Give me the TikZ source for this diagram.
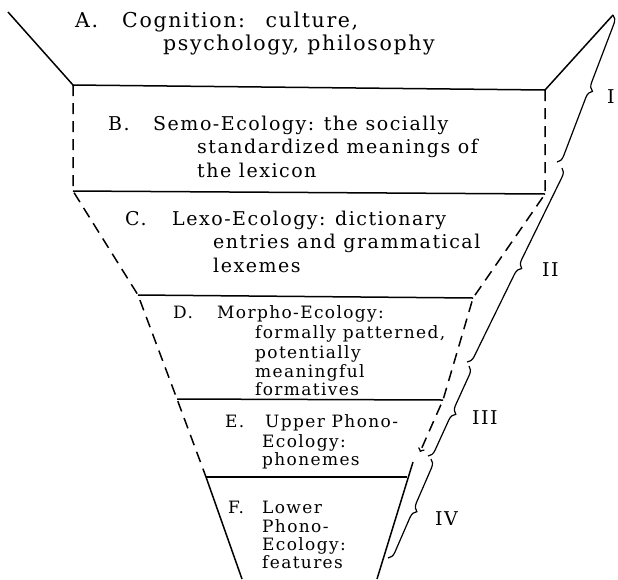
\documentclass[tikz,border=0pt]{standalone}
\usepackage{fontspec}
\setmainfont[LetterSpace=8]{DejaVu Serif}
\usetikzlibrary{decorations.pathreplacing}
\begin{document}
\begin{tikzpicture}[x=1pt,y=-1pt,
  txt/.style={anchor=base west,inner sep=0pt},
  big/.style={txt,font=\fontsize{20.5}{24}\selectfont},
  mid/.style={txt,font=\fontsize{19}{23}\selectfont},
  sml/.style={txt,font=\fontsize{17}{20}\selectfont},
  solidline/.style={line width=1.5pt},
  dashline/.style={line width=1.5pt,dash pattern=on 11pt off 7pt},
  brc/.style={line width=1.2pt,decorate,decoration={brace,amplitude=8pt}}]
\useasboundingbox (0,0) rectangle (618,579);

% corners of the funnel
\coordinate (tl) at (8,12);
\coordinate (tr) at (613,15);
\coordinate (bl) at (73,85);
\coordinate (br) at (545,90);
\coordinate (cl) at (73,191);
\coordinate (cr) at (545,194);
\coordinate (dl) at (138,295);
\coordinate (dr) at (473,298);
\coordinate (el) at (177,399);
\coordinate (er) at (443,400);
\coordinate (fl) at (206,477);
\coordinate (fr) at (407,477);
\coordinate (tip) at (420,452);
\coordinate (ftop) at (413,462);
\coordinate (gl) at (242,579);
\coordinate (gr) at (377,579);

\draw [solidline] (tl)--(bl)--(br)--(tr);
\draw [solidline] (cl)--(cr);
\draw [solidline] (dl)--(dr);
\draw [solidline] (el)--(er);
\draw [solidline] (fl)--(fr);
\draw [solidline] (fl)--(gl);
\draw [solidline] (ftop)--(gr);
\draw [dashline] (bl)--(cl)--(dl)--(el)--(fl);
\draw [dashline,->] (br)--(cr)--(dr)--(er)--(tip);

% levels
\node (A) [big] at (75,27) {A.};
\node (A1) [big] at (122,27) {Cognition:\quad culture,};
\node (A2) [big] at (163,50) {psychology, philosophy};

\node (B) [mid] at (108,130) {B.};
\node (B1) [mid] at (153,130) {Semo-Ecology:\enspace the socially};
\node (B2) [mid] at (197,153) {standardized meanings of};
\node (B3) [mid] at (197,177) {the lexicon};

\node (C) [mid] at (125,225) {C.};
\node (C1) [mid] at (172,225) {Lexo-Ecology:\enspace dictionary};
\node (C2) [mid] at (213,248) {entries and grammatical};
\node (C3) [mid] at (213,272) {lexemes};

\node (D) [sml] at (173,318) {D.};
\node (D1) [sml] at (217,318) {Morpho-Ecology:};
\node (D2) [sml] at (255,338) {formally patterned,};
\node (D3) [sml] at (255,358) {potentially};
\node (D4) [sml] at (255,377) {meaningful};
\node (D5) [sml] at (255,395) {formatives};

\node (E) [sml] at (225,427) {E.};
\node (E1) [sml] at (265,427) {Upper Phono-};
\node (E2) [sml] at (262,447) {Ecology:};
\node (E3) [sml] at (262,465) {phonemes};

\node (F) [sml] at (228,513) {F.};
\node (F1) [sml] at (262,513) {Lower};
\node (F2) [sml] at (262,532) {Phono-};
\node (F3) [sml] at (262,550) {Ecology:};
\node (F4) [sml] at (262,568) {features};

% braces
\coordinate (bI) at (613,15);
\coordinate (eI) at (557,162);
\coordinate (bII) at (562,168);
\coordinate (eII) at (467,362);
\coordinate (bIII) at (469,366);
\coordinate (eIII) at (428,456);
\coordinate (bIV) at (431,459);
\coordinate (eIV) at (388,558);
\draw [brc] (bI)--(eI);
\draw [brc] (bII)--(eII);
\draw [brc] (bIII)--(eIII);
\draw [brc] (bIV)--(eIV);
\node (I) [mid] at (607,103) {I};
\node (II) [mid] at (542,276) {II};
\node (III) [mid] at (472,424) {III};
\node (IV) [mid] at (435,525) {IV};
\end{tikzpicture}
\end{document}
